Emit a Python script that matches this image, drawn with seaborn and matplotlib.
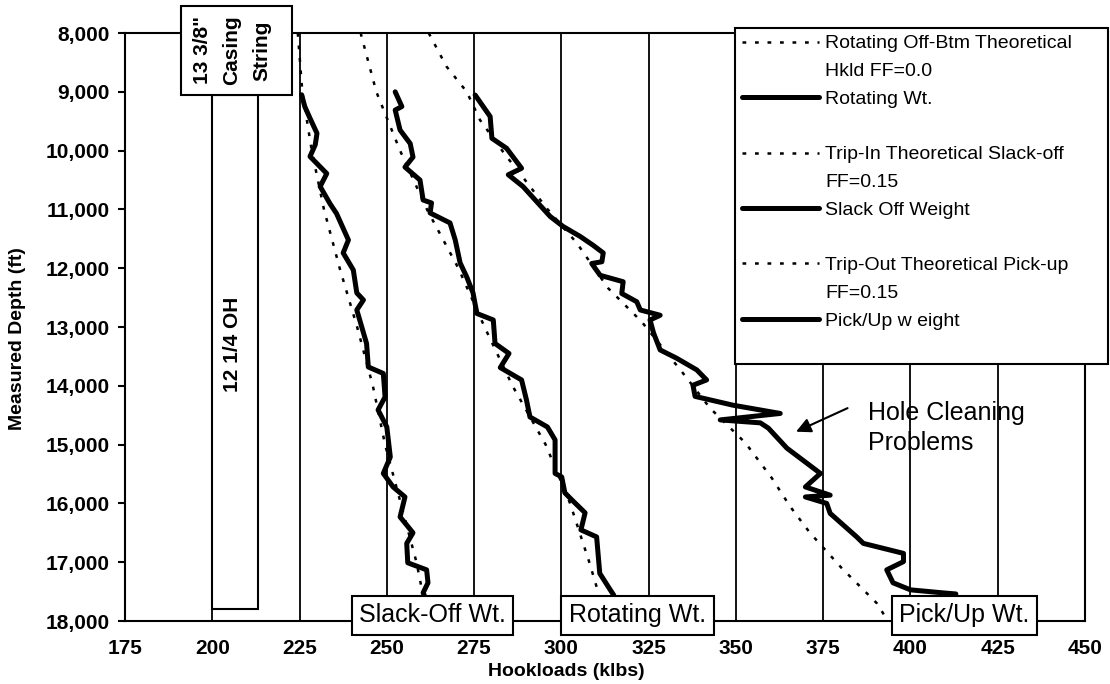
import numpy as np
import pandas as pd
import matplotlib
matplotlib.use('Agg')
import matplotlib.pyplot as plt
import seaborn as sns
from matplotlib.lines import Line2D
from matplotlib.patches import Rectangle
from matplotlib.ticker import FuncFormatter

# Measured depth (ft) vs hookload (klbs)
slack_depth = [9050, 9250, 9450, 9706, 9900, 10100, 10390, 10610, 10900, 11070, 11520, 11740,
               12030, 12420, 12540, 12710, 13280, 13680, 13790, 14190, 14410, 14700, 15210,
               15490, 15720, 15890, 16230, 16500, 16680, 17010, 17130, 17350, 17520, 17600]
slack_load = [225.6, 226.5, 228.0, 230.0, 229.5, 228.0, 232.8, 230.9, 233.7, 235.6, 239.0, 237.5,
              240.4, 241.4, 243.3, 241.4, 244.2, 244.7, 249.0, 249.5, 247.5, 250.0, 251.0,
              249.0, 251.8, 255.2, 253.8, 257.5, 255.7, 256.0, 261.4, 261.8, 260.4, 261.0]

rot_depth = [9000, 9250, 9310, 9650, 9880, 10110, 10280, 10500, 10840, 10890, 11060, 11230,
             11520, 11910, 12150, 12420, 12770, 12880, 13280, 13450, 13690, 13900, 14240,
             14530, 14700, 14920, 15490, 15550, 15820, 15940, 16160, 16450, 16570, 17190,
             17470, 17560]
rot_load = [252.4, 254.3, 252.4, 253.8, 256.7, 257.5, 255.2, 259.5, 260.4, 262.8, 262.4, 268.1,
            269.6, 271.0, 272.9, 274.7, 275.8, 280.5, 281.0, 285.0, 282.5, 288.6, 290.0,
            291.0, 296.0, 298.2, 298.2, 300.1, 301.0, 303.0, 306.8, 305.6, 310.1, 311.0,
            314.0, 315.0]

pick_depth = [9054, 9420, 9790, 9960, 10300, 10410, 10610, 11120, 11290, 11460, 11610, 11740,
              11890, 11920, 12120, 12230, 12430, 12570, 12710, 12800, 12880, 13100, 13390,
              13530, 13730, 13900, 13990, 14180, 14330, 14470, 14580, 14630, 14720, 15060,
              15490, 15720, 15860, 15890, 16000, 16170, 16570, 16680, 16850, 16990, 17130,
              17350, 17470, 17520, 17540]
pick_load = [275.3, 279.6, 280.1, 284.3, 288.6, 284.8, 289.0, 296.8, 300.5, 305.4, 309.1, 312.0,
             311.6, 308.7, 311.1, 317.7, 317.3, 321.6, 322.6, 328.3, 325.4, 326.4, 328.3,
             333.0, 338.8, 341.6, 337.7, 338.3, 349.2, 362.7, 345.5, 357.0, 359.3, 364.6,
             374.2, 369.9, 377.0, 369.9, 376.0, 377.0, 384.6, 386.5, 398.0, 398.0, 393.2,
             395.0, 400.0, 409.0, 413.0]

# theoretical curves
th_rot_depth = [8000, 9000, 10000, 11000, 12000, 13000, 14000, 15000, 16000, 17000, 17600]
th_rot_load = [242.5, 247.0, 253.8, 261.5, 270.5, 278.0, 286.0, 295.5, 302.5, 308.0, 311.0]

th_slack_depth = [8000, 9000, 10000, 11000, 12000, 13000, 14000, 15000, 16000, 17000, 17600]
th_slack_load = [224.5, 225.8, 228.5, 232.0, 236.5, 241.5, 246.0, 249.5, 254.0, 258.5, 260.5]

th_pick_depth = [8000, 8570, 9000, 9480, 10070, 10500, 10980, 11570, 12340, 12910, 13790,
                 14380, 14970, 15570, 16050, 16500, 17100, 17700, 17950]
th_pick_load = [262.0, 267.1, 272.9, 276.7, 283.9, 289.6, 295.8, 304.4, 313.4, 323.0, 334.9,
                342.6, 352.7, 360.3, 365.5, 371.2, 380.3, 390.4, 393.0]

x_ticks = list(range(175, 451, 25))
y_ticks = list(range(8000, 18001, 1000))

sns.set_theme(style='white')
plt.rcParams['font.family'] = ['Liberation Sans', 'DejaVu Sans']
plt.rcParams['text.color'] = 'black'
plt.rcParams['axes.labelcolor'] = 'black'
plt.rcParams['xtick.color'] = 'black'
plt.rcParams['ytick.color'] = 'black'

fig = plt.figure(figsize=(11.1, 6.84), dpi=100)
ax = fig.add_axes([0.1126, 0.0921, 0.8649, 0.8596])

dot = (0, (1.5, 3.5))
thick = 3.6

for d, l in [(th_rot_depth, th_rot_load), (th_slack_depth, th_slack_load),
             (th_pick_depth, th_pick_load)]:
    sns.lineplot(x=l, y=d, sort=False, estimator=None, ax=ax, color='black',
                 lw=1.8, linestyle=dot, zorder=3)

for d, l in [(slack_depth, slack_load), (rot_depth, rot_load), (pick_depth, pick_load)]:
    sns.lineplot(x=l, y=d, sort=False, estimator=None, ax=ax, color='black',
                 lw=thick, zorder=4)

ax.set_xlim(175, 450)
ax.set_ylim(18000, 8000)
ax.set_xticks(x_ticks)
ax.set_yticks(y_ticks)
ax.yaxis.set_major_formatter(FuncFormatter(lambda v, p: f'{int(v):,}'))
ax.grid(axis='x', color='black', lw=1.3, zorder=1)
ax.grid(axis='y', visible=False)
ax.set_axisbelow(True)
for s in ax.spines.values():
    s.set_color('black')
    s.set_linewidth(1.5)
ax.tick_params(axis='x', length=0, pad=13, labelsize=15)
ax.tick_params(axis='y', length=5, width=1.5, direction='out', left=True, pad=6, labelsize=15)
for t in ax.get_xticklabels() + ax.get_yticklabels():
    t.set_fontweight('bold')

ax.set_xlabel('Hookloads (klbs)', fontsize=14, fontweight='bold')
ax.set_ylabel('Measured Depth (ft)', fontsize=14, fontweight='bold')
ax.xaxis.set_label_coords(0.46, -0.072)
ax.yaxis.set_label_coords(-0.103, 0.481)

# casing / open hole sketch
ax.add_patch(Rectangle((191, 7540), 31.8, 1514, fc='white', ec='black', lw=1.5,
                       clip_on=False, zorder=6))
for xx, txt in [(197.3, '13 3/8"'), (205.6, 'Casing'), (214.2, 'String')]:
    ax.text(xx, 8297, txt, rotation=90, ha='center', va='center', fontsize=15,
            fontweight='bold', zorder=7, clip_on=False)
ax.add_patch(Rectangle((200, 9054), 13, 8746, fc='white', ec='black', lw=1.5, zorder=3))
ax.text(205.7, 13300, '12 1/4 OH', rotation=90, ha='center', va='center', fontsize=15,
        fontweight='bold', zorder=4)

# curve labels along the bottom
box = dict(boxstyle='square,pad=0.3', fc='white', ec='black', lw=1.5)
for xx, txt in [(263.1, 'Slack-Off Wt.'), (321.8, 'Rotating Wt.'), (415.4, 'Pick/Up Wt.')]:
    ax.text(xx, 17898, txt, ha='center', va='center', fontsize=18, bbox=box,
            zorder=8, clip_on=False)

ax.annotate('', xy=(366.5, 14800), xytext=(382.7, 14360),
            arrowprops=dict(arrowstyle='-|>', color='black', lw=1.5, mutation_scale=22),
            zorder=8)
ax.text(387.9, 14718, 'Hole Cleaning\nProblems', ha='left', va='center', fontsize=18,
        linespacing=1.35, zorder=8)

# legend
dl = dict(color='black', lw=1.8, linestyle=dot)
sl = dict(color='black', lw=thick)
blank = Line2D([], [], color='none')
handles = [Line2D([], [], **dl), blank, Line2D([], [], **sl), blank,
           Line2D([], [], **dl), blank, Line2D([], [], **sl), blank,
           Line2D([], [], **dl), blank, Line2D([], [], **sl), blank]
labels = ['Rotating Off-Btm Theoretical', 'Hkld FF=0.0', 'Rotating Wt.', ' ',
          'Trip-In Theoretical Slack-off', 'FF=0.15', 'Slack Off Weight', ' ',
          'Trip-Out Theoretical Pick-up', 'FF=0.15', 'Pick/Up w eight', ' ']
leg = ax.legend(handles, labels, loc='upper left', bbox_to_anchor=(0.662, 0.959, 0.336, 0),
                bbox_transform=fig.transFigure, mode='expand', borderaxespad=0,
                fontsize=14, handlelength=4, handletextpad=0.3, labelspacing=0.52,
                borderpad=0.35, fancybox=False, framealpha=1, edgecolor='black')
leg.get_frame().set_linewidth(1.5)
leg.set_zorder(9)

fig.savefig('out.png', dpi=100)
